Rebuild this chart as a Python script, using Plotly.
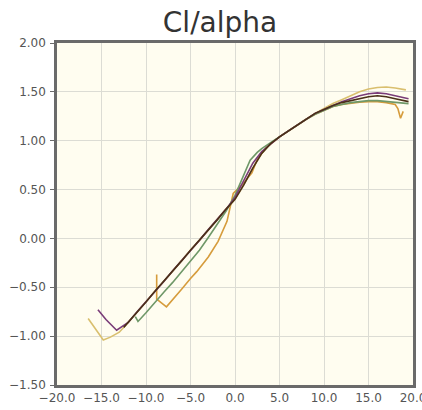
import plotly.graph_objects as go

# ---- data ----
x_ticks = [-20, -15, -10, -5, 0, 5, 10, 15, 20]
y_ticks = [-1.5, -1.0, -0.5, 0.0, 0.5, 1.0, 1.5, 2.0]

yellow_alpha = [-16.5, -14.8, -14, -13, -12, -11, -10, -9, -8, -7, -6, -5, -4, -3, -2, -1, 0, 1, 2, 3, 4, 5, 6, 7, 8, 9, 10, 11, 12, 13, 14, 15, 16, 17, 18, 19.2]
yellow_cl = [-0.82, -1.04, -1.01, -0.96, -0.86, -0.75, -0.65, -0.54, -0.44, -0.33, -0.23, -0.12, -0.02, 0.09, 0.19, 0.30, 0.40, 0.55, 0.72, 0.87, 0.97, 1.04, 1.10, 1.16, 1.22, 1.28, 1.33, 1.38, 1.42, 1.46, 1.50, 1.53, 1.545, 1.55, 1.54, 1.52]

orange_alpha = [-8.8, -8.8, -7.7, -7, -6, -5, -4.3, -3, -1.9, -0.9, -0.5, -0.2, 0.8, 1.9, 2.5, 3.5, 5, 6, 7, 8, 9, 10, 11, 12, 13, 14, 15, 16, 17, 18, 18.3, 18.6, 18.9]
orange_cl = [-0.37, -0.62, -0.70, -0.63, -0.52, -0.41, -0.34, -0.19, -0.03, 0.175, 0.35, 0.46, 0.55, 0.67, 0.81, 0.93, 1.04, 1.10, 1.16, 1.22, 1.27, 1.31, 1.35, 1.37, 1.385, 1.395, 1.40, 1.40, 1.39, 1.37, 1.33, 1.23, 1.30]

green_alpha = [-11.2, -10.9, -10, -9, -8, -7, -6, -5, -4, -3, -2, -1, 0, 1, 1.7, 2.5, 3, 4, 5, 6, 7, 8, 9, 10, 11, 12, 13, 14, 15, 16, 17, 18, 19.5]
green_cl = [-0.80, -0.85, -0.76, -0.65, -0.55, -0.45, -0.34, -0.23, -0.12, 0.01, 0.14, 0.28, 0.44, 0.65, 0.80, 0.88, 0.92, 0.98, 1.04, 1.10, 1.16, 1.22, 1.27, 1.31, 1.35, 1.37, 1.39, 1.40, 1.41, 1.41, 1.40, 1.39, 1.38]

purple_alpha = [-15.4, -14.5, -13.3, -12, -11, -10, -9, -8, -7, -6, -5, -4, -3, -2, -1, 0, 1, 2, 3, 4, 5, 6, 7, 8, 9, 10, 11, 12, 13, 14, 15, 16, 17, 18, 19, 19.5]
purple_cl = [-0.73, -0.83, -0.94, -0.86, -0.75, -0.65, -0.54, -0.44, -0.33, -0.23, -0.12, -0.02, 0.09, 0.19, 0.30, 0.42, 0.60, 0.77, 0.89, 0.97, 1.04, 1.10, 1.16, 1.22, 1.28, 1.32, 1.36, 1.40, 1.43, 1.46, 1.48, 1.49, 1.48, 1.46, 1.44, 1.43]

brown_alpha = [-12.5, -12, -11, -10, -9, -8, -7, -6, -5, -4, -3, -2, -1, 0, 1, 2, 3, 4, 5, 6, 7, 8, 9, 10, 11, 12, 13, 14, 15, 16, 17, 18, 19, 19.5]
brown_cl = [-0.91, -0.86, -0.75, -0.65, -0.54, -0.44, -0.33, -0.23, -0.12, -0.02, 0.09, 0.19, 0.30, 0.40, 0.55, 0.72, 0.87, 0.97, 1.04, 1.10, 1.16, 1.22, 1.28, 1.32, 1.36, 1.39, 1.41, 1.43, 1.45, 1.46, 1.45, 1.43, 1.41, 1.40]

series = [
    ("yellow", yellow_alpha, yellow_cl, "#d9bf6e"),
    ("orange", orange_alpha, orange_cl, "#d69c3c"),
    ("green", green_alpha, green_cl, "#6f9868"),
    ("purple", purple_alpha, purple_cl, "#7a3c78"),
    ("brown", brown_alpha, brown_cl, "#4a3018"),
]

fig = go.Figure()
for name, xs, ys, col in series:
    fig.add_trace(go.Scatter(x=xs, y=ys, mode="lines", name=name,
                             line=dict(color=col, width=1.6), showlegend=False))

fig.update_layout(
    width=422, height=410,
    margin=dict(l=57, r=9, t=43, b=25),
    paper_bgcolor="white",
    plot_bgcolor="#fffdf0",
    font=dict(family="DejaVu Sans", size=12, color="#555555"),
    title=dict(text="Cl/alpha", x=220/422, xanchor="center",
               yref="container", y=1 - 22/410, yanchor="middle",
               font=dict(family="DejaVu Sans", size=28, color="#333333")),
)
fig.update_xaxes(range=[-20, 20], tickvals=x_ticks, tickformat=".1f",
                 showgrid=True, gridcolor="#dcdcd4", gridwidth=1,
                 showline=True, linecolor="#6a6a6a", linewidth=2.5, mirror=True,
                 ticks="", ticklabeloverflow="allow", automargin=False,
                 zeroline=False)
fig.update_yaxes(range=[-1.5, 2.0], tickvals=y_ticks, tickformat=".2f",
                 showgrid=True, gridcolor="#dcdcd4", gridwidth=1,
                 showline=True, linecolor="#6a6a6a", linewidth=2.5, mirror=True,
                 ticks="outside", ticklen=4, tickcolor="#6a6a6a",
                 ticklabelstandoff=2, automargin=False, zeroline=False)

fig.write_html("out.html",
               config={"displayModeBar": False},
               post_script="document.body.style.margin='0px';"
                           "document.body.style.overflow='hidden';"
                           "document.documentElement.style.overflow='hidden';")
